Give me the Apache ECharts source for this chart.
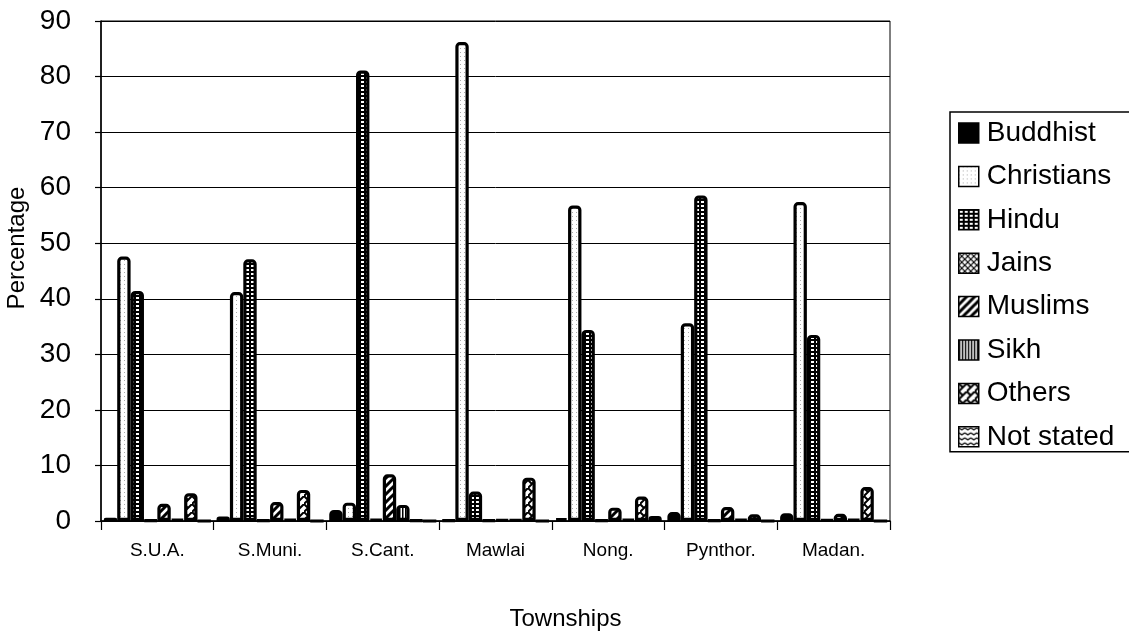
<!DOCTYPE html>
<html>
<head>
<meta charset="utf-8">
<script src="https://cdn.jsdelivr.net/npm/echarts@6/dist/echarts.min.js"></script>
<style>
  html, body { margin: 0; padding: 0; background: #fff; }
  #chart { width: 1129px; height: 633px; }
</style>
</head>
<body>
<div id="chart"></div>
<script>
// Townships and religion shares (%)
const townships = ['S.U.A.', 'S.Muni.', 'S.Cant.', 'Mawlai', 'Nong.', 'Pynthor.', 'Madan.'];
const religions = ['Buddhist', 'Christians', 'Hindu', 'Jains', 'Muslims', 'Sikh', 'Others', 'Not stated'];

const buddhist   = [0.6, 0.8, 2.0, 0.1, 0.5, 1.6, 1.4];
const christians = [47.6, 41.2, 3.3, 86.2, 56.8, 35.6, 57.4];
const hindu      = [41.4, 47.1, 81.1, 5.3, 34.4, 58.6, 33.5];
const jains      = [0.1, 0.1, 0.3, 0.1, 0.1, 0.1, 0.2];
const muslims    = [3.1, 3.4, 8.4, 0.2, 2.4, 2.5, 1.3];
const sikh       = [0.3, 0.3, 2.9, 0.2, 0.3, 0.3, 0.3];
const others     = [5.0, 5.6, 0.1, 7.8, 4.4, 1.2, 6.1];
const notStated  = [0.0, 0.0, 0.0, 0.0, 0.9, 0.0, 0.0];

const seriesValues = [buddhist, christians, hindu, jains, muslims, sikh, others, notStated];
const yTicks = { min: 0, max: 90, interval: 10 };

// Monochrome fill patterns, one per religion
function tile(w, h, draw) {
  const c = document.createElement('canvas');
  c.width = w; c.height = h;
  const g = c.getContext('2d');
  g.fillStyle = '#fff';
  g.fillRect(0, 0, w, h);
  g.fillStyle = '#000';
  g.strokeStyle = '#000';
  draw(g, w, h);
  return { image: c, repeat: 'repeat' };
}

const fills = [
  '#000',
  tile(4, 4, g => { g.fillStyle = '#aaa'; g.fillRect(0, 0, 1, 1); }),
  tile(5, 4, g => { g.fillRect(0, 0, 5, 4); g.fillStyle = '#fff'; g.fillRect(1, 1, 3, 2); }),
  tile(6, 6, g => { g.lineWidth = 1.2; g.beginPath(); g.moveTo(0, 0); g.lineTo(6, 6); g.moveTo(6, 0); g.lineTo(0, 6); g.stroke(); }),
  tile(8, 8, g => { g.lineWidth = 3; g.beginPath(); g.moveTo(-2, 10); g.lineTo(10, -2); g.moveTo(-2, 2); g.lineTo(2, -2); g.moveTo(6, 10); g.lineTo(10, 6); g.stroke(); }),
  tile(3, 2, g => { g.fillRect(0, 0, 1.5, 2); }),
  tile(8, 8, g => { g.lineWidth = 2; g.beginPath(); g.moveTo(0, 8); g.lineTo(8, 0); g.moveTo(0, 0); g.lineTo(4, 4); g.stroke(); }),
  tile(6, 5, g => { g.lineWidth = 1.2; g.beginPath(); g.moveTo(0, 1); g.lineTo(3, 3); g.lineTo(6, 1); g.stroke(); })
];

const font = "'Liberation Sans', Arial, sans-serif";

const chart = echarts.init(document.getElementById('chart'), null, { renderer: 'canvas' });

chart.setOption({
  backgroundColor: '#fff',
  animation: false,
  grid: {
    left: 101, right: 239, top: 21, bottom: 112,
    containLabel: false,
    outerBoundsMode: 'none',
    show: true, borderColor: '#000', borderWidth: 1, backgroundColor: 'transparent'
  },
  legend: {
    data: religions,
    orient: 'vertical',
    left: 950, top: 112,
    padding: [7, 60, 1, 8],
    itemWidth: 20, itemHeight: 20, itemGap: 15.4,
    icon: 'rect',
    borderColor: '#000', borderWidth: 1.5,
    itemStyle: { borderColor: '#000', borderWidth: 1.5 },
    textStyle: { fontFamily: font, fontSize: 28, lineHeight: 28, color: '#000', padding: [0, 0, 0, 3] }
  },
  xAxis: {
    type: 'category',
    data: townships,
    name: 'Townships',
    nameLocation: 'middle',
    nameGap: 86,
    nameTextStyle: { fontFamily: font, fontSize: 24, color: '#000', padding: [0, 0, 0, 140] },
    axisLine: { lineStyle: { color: '#000', width: 1.5 } },
    axisTick: { show: true, length: 9, lineStyle: { color: '#000', width: 1.2 } },
    axisLabel: { fontFamily: font, fontSize: 19, color: '#000', margin: 20 }
  },
  yAxis: {
    type: 'value',
    min: yTicks.min, max: yTicks.max, interval: yTicks.interval,
    name: 'Percentage',
    nameLocation: 'middle',
    nameGap: 67,
    nameRotate: 90,
    nameTextStyle: { fontFamily: font, fontSize: 24, color: '#000', padding: [0, 0, 0, 46] },
    axisLine: { show: true, lineStyle: { color: '#000', width: 1.5 } },
    axisTick: { show: true, length: 6, lineStyle: { color: '#000', width: 1.2 } },
    axisLabel: { fontFamily: font, fontSize: 28, color: '#000', margin: 30 },
    splitLine: { show: true, lineStyle: { color: '#000', width: 1 } }
  },
  series: religions.map((name, i) => ({
    name,
    type: 'bar',
    data: seriesValues[i],
    barGap: '0%',
    barCategoryGap: '5%',
    itemStyle: {
      color: fills[i],
      borderColor: '#000',
      borderWidth: 3.2,
      borderRadius: [3, 3, 0, 0]
    }
  }))
});
</script>
</body>
</html>
